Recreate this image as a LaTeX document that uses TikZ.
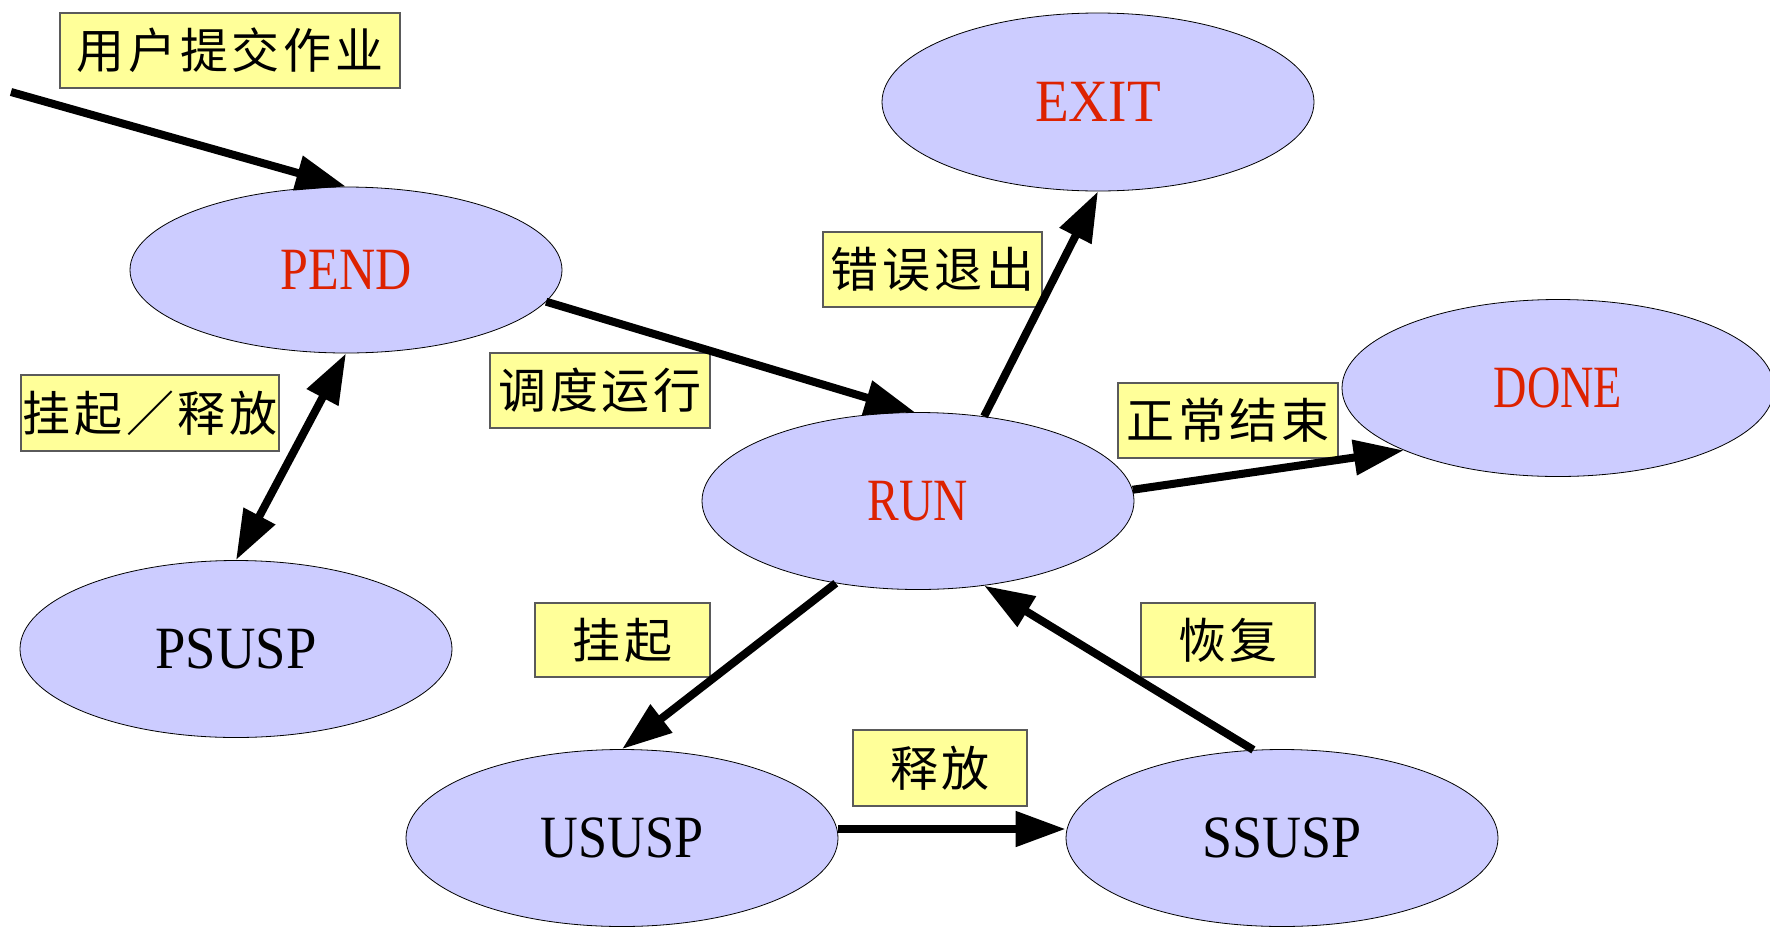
\documentclass[tikz,border=0pt]{standalone}
\usepackage{fontspec}
\usepackage{graphicx}
\usetikzlibrary{shapes.geometric,arrows.meta}
\setmainfont{Liberation Serif}
\newfontfamily\cjk[LetterSpace=8]{Noto Sans CJK SC}
\newcommand\narrowed[2]{\scalebox{#1}[1]{#2}}
\definecolor{statefill}{RGB}{204,204,255}
\definecolor{statered}{RGB}{221,34,0}
\definecolor{notefill}{RGB}{255,255,153}
\definecolor{noteline}{RGB}{90,90,90}
\begin{document}
\begin{tikzpicture}[x=1pt,y=-1pt,
  state/.style={ellipse, draw=black, line width=0.8pt, fill=statefill,
    minimum width=432pt, minimum height=177pt, inner sep=0pt,
    font=\fontsize{60}{60}\selectfont},
  active/.style={state, text=statered},
  note/.style={draw=noteline, line width=1.5pt, fill=notefill, inner sep=0pt,
    minimum height=75pt, font=\cjk\fontsize{48}{48}\selectfont},
  tip/.tip={Triangle[length=50pt,width=34pt]},
  flow/.style={line width=8pt, -tip},
  both/.style={line width=8pt, tip-tip},
]
\useasboundingbox (0,0) rectangle (1770,927);

% job states
\node[active, minimum height=166pt] (PEND) at (346,270) {\narrowed{0.835}{PEND}};
\node[active, minimum height=178pt] (EXIT) at (1098,102) {\narrowed{0.92}{EXIT}};
\node[active] (DONE) at (1558,388) {\narrowed{0.77}{DONE}};
\node[active] (RUN) at (918,501) {\narrowed{0.79}{RUN}};
\node[state] (PSUSP) at (236,649) {\narrowed{0.91}{PSUSP}};
\node[state] (USUSP) at (622,838) {\narrowed{0.87}{USUSP}};
\node[state] (SSUSP) at (1282,838) {\narrowed{0.90}{SSUSP}};

% transition labels
\node[note, minimum width=340pt] (lsubmit) at (230,50.5) {用户提交作业};
\node[note, minimum width=219pt] (lerror) at (932.5,269.5) {错误退出};
\node[note, minimum width=220pt] (lsched) at (600,390.5) {调度运行};
\node[note, minimum width=258pt, minimum height=76pt] (lpsusp) at (150,413) {挂起／释放};
\node[note, minimum width=220pt] (ldone) at (1228,420.5) {正常结束};
\node[note, minimum width=175pt, minimum height=74pt] (lsusp) at (622.5,640) {挂起};
\node[note, minimum width=174pt, minimum height=74pt] (lresume) at (1228,640) {恢复};
\node[note, minimum width=174pt, minimum height=76pt] (lrelease) at (940,768) {释放};

% transitions
\coordinate (entry) at (11,92);
\draw[flow] (entry) -- (PEND.north);
\draw[flow] (PEND.351) -- (RUN.92);
\draw[flow] (RUN.52) -- (EXIT.south);
\draw[flow] (RUN.3) -- (DONE.202);
\draw[both] (PSUSP.north) -- (PEND.south);
\draw[flow] (RUN.225) -- (USUSP.north);
\draw[flow] ([yshift=9pt]USUSP.east) -- ([yshift=9pt]SSUSP.west);
\draw[flow] (SSUSP.108) -- (RUN.308);
\end{tikzpicture}
\end{document}
